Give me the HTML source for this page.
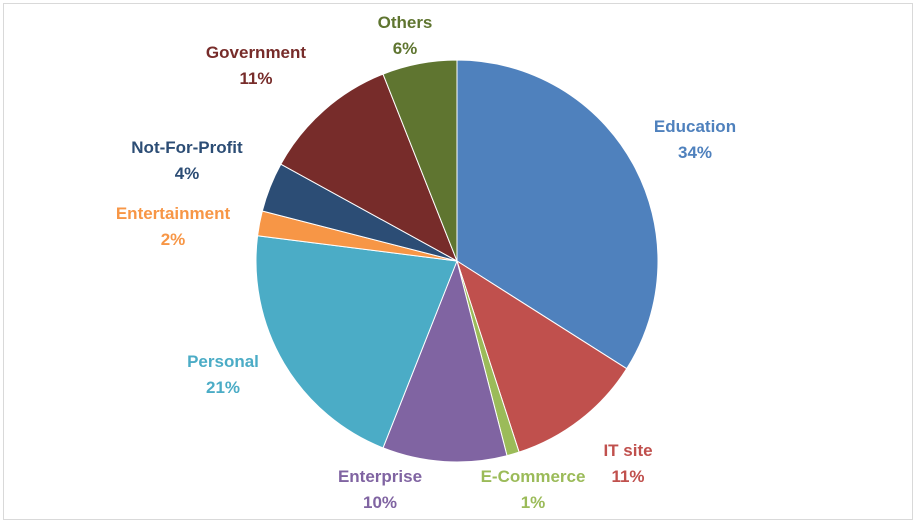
<!DOCTYPE html>
<html><head><meta charset="utf-8"><style>
html,body{margin:0;padding:0;background:#fff;}
svg{display:block;}
text{font-family:"Liberation Sans",sans-serif;font-weight:bold;font-size:17px;text-anchor:middle;}
</style></head><body>
<svg id="chart" width="917" height="524">
<rect x="3.5" y="3.5" width="909" height="516" fill="#fff" stroke="#d9d9d9"/>
<g id="slices"></g><g id="labels"></g>
</svg>
<script>
const categories=["Education","IT site","E-Commerce","Enterprise","Personal","Entertainment","Not-For-Profit","Government","Others"];
const values=[34,11,1,10,21,2,4,11,6];
const colors=["#4F81BD","#C0504D","#9BBB59","#8064A2","#4BACC6","#F79646","#2C4D75","#772C2A","#5F7530"];
const labelPos=[[695,132],[628,456],[533,482],[380,482],[223,367],[173,219],[187,153],[256,58],[405,28]];
const cx=457,cy=261,r=201;
const NS="http://www.w3.org/2000/svg";
const total=values.reduce((a,b)=>a+b,0);
const gs=document.getElementById('slices'),gl=document.getElementById('labels');
let a0=0;
function pt(a){return [cx+r*Math.sin(a),cy-r*Math.cos(a)];}
values.forEach((v,i)=>{
  const a1=a0+v/total*2*Math.PI;
  const p0=pt(a0),p1=pt(a1);
  const large=(a1-a0)>Math.PI?1:0;
  const p=document.createElementNS(NS,'path');
  p.setAttribute('d',`M${cx},${cy}L${p0[0]},${p0[1]}A${r},${r} 0 ${large} 1 ${p1[0]},${p1[1]}Z`);
  p.setAttribute('fill',colors[i]);
  p.setAttribute('stroke','#fff');
  p.setAttribute('stroke-width','1');
  
  
  gs.appendChild(p);
  const [lx,ly]=labelPos[i];
  const t=document.createElementNS(NS,'text');
  t.setAttribute('x',lx);t.setAttribute('y',ly);t.setAttribute('fill',colors[i]);
  
  
  const s1=document.createElementNS(NS,'tspan');s1.setAttribute('x',lx);s1.textContent=categories[i];
  const s2=document.createElementNS(NS,'tspan');s2.setAttribute('x',lx);s2.setAttribute('dy','26');
  s2.textContent=Math.round(v/total*100)+'%';
  t.appendChild(s1);t.appendChild(s2);gl.appendChild(t);
  a0=a1;
});
</script>
</body></html>
